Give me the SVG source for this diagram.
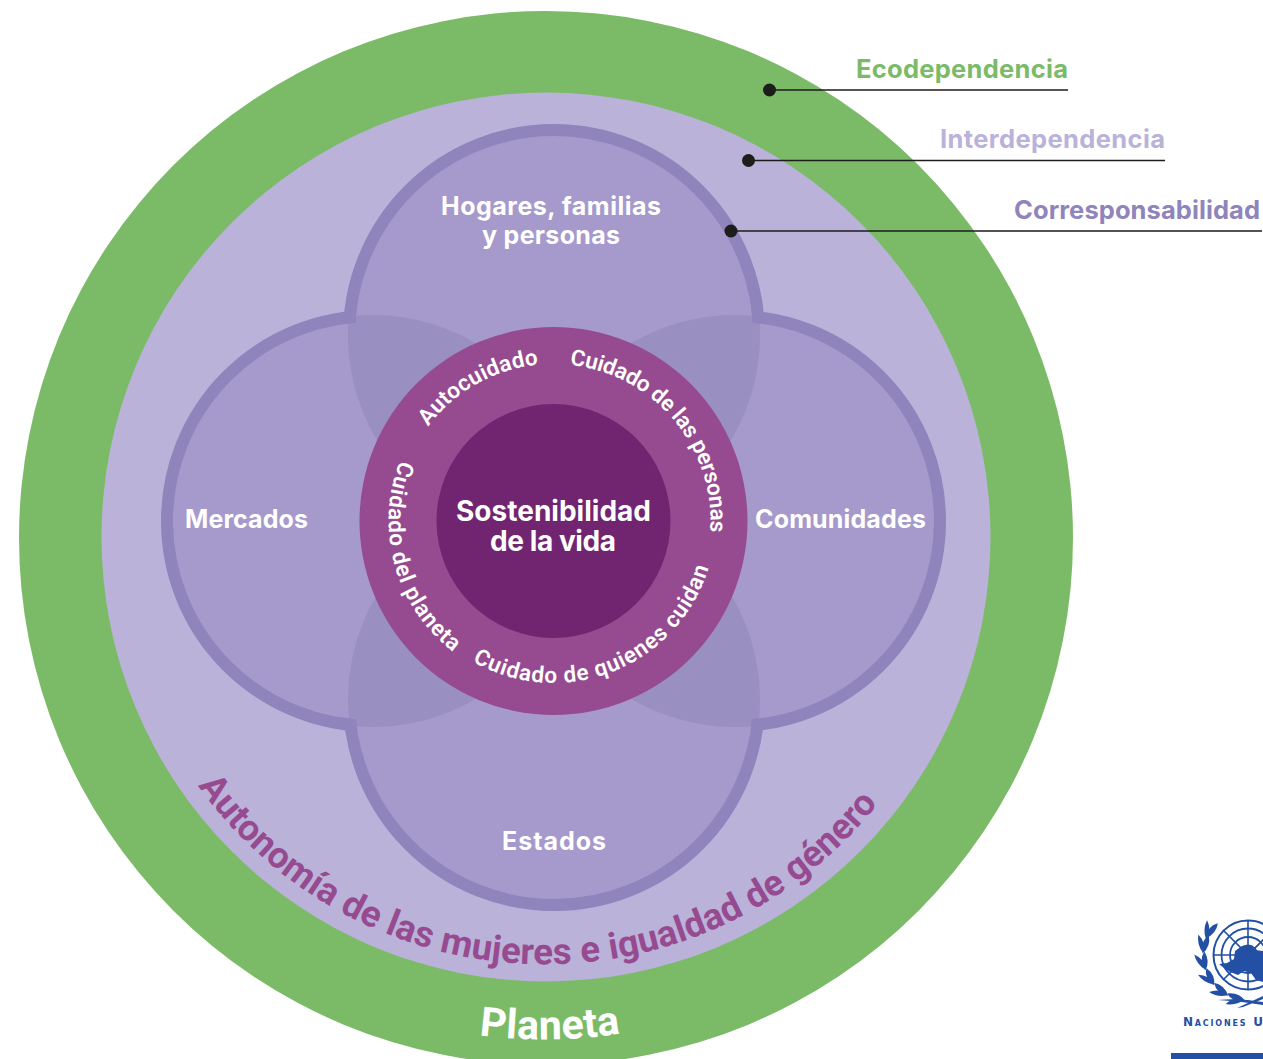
<svg xmlns="http://www.w3.org/2000/svg" width="1263" height="1059" viewBox="0 0 1263 1059">
<style>
text{font-family:"Inter","Roboto","Liberation Sans",sans-serif;font-weight:700}
.w{fill:#fff}
.lab{font-size:25px}
.ring{font-size:22.500px;font-weight:600;font-family:"Roboto","Inter",sans-serif}
.arc{font-family:"Roboto","Inter",sans-serif}
.key{font-size:25.500px}
.ln{stroke:#1d1d1b;stroke-width:1.6;fill:none}
.dot{fill:#1d1d1b}
.pet{fill:#a59acb}
.ov{fill:#9a8fc1}
.rg{fill:none;stroke:#8f84bc;stroke-width:12}
.b{stroke:#2350a5;fill:none}
.k{fill:#000}
</style>
<defs>
<clipPath id="ct"><circle cx="554" cy="335" r="206"/></clipPath>
<clipPath id="cb"><circle cx="554" cy="700" r="206"/></clipPath>
<mask id="mV" maskUnits="userSpaceOnUse" x="0" y="0" width="1263" height="1059"><rect width="1263" height="1059" fill="#fff"/><circle class="k" cx="372" cy="521" r="199"/><circle class="k" cx="735" cy="521" r="199"/></mask>
<mask id="mH" maskUnits="userSpaceOnUse" x="0" y="0" width="1263" height="1059"><rect width="1263" height="1059" fill="#fff"/><circle class="k" cx="554" cy="335" r="199"/><circle class="k" cx="554" cy="700" r="199"/></mask>
<path id="pA" d="M428.1 426.5A157 157 0 0 1 545.3 364.2"/>
<path id="pP" d="M569.9 364.9A157 157 0 0 1 708.1 548.3"/>
<path id="pQ" d="M472.5 661.3A162 162 0 0 0 710.7 560.2"/>
<path id="pD" d="M400 460.5A165 165 0 0 0 458.9 656.2"/>
<path id="pG" d="M198 785.6A426 426 0 0 0 895 781"/>
<path id="pL" d="M479 1035.300A505 505 0 0 0 636 1030.900"/>
<path id="lf" fill="#2350a5" d="M1205 947Q1198 955 1204 966Q1210 957 1205 947z"/>
<path id="lg" fill="#2350a5" d="M1197 938Q1196 948 1203 956Q1206 946 1197 938z"/>
</defs>
<g id="planeta"><circle cx="546" cy="538" r="527" fill="#7bbb67"/>
<text class="w arc" font-size="41"><textPath href="#pL" textLength="142">Planeta</textPath></text></g>
<g id="interdependencia"><circle cx="546" cy="537" r="444.500" fill="#bab2d9"/>
<text class="arc" font-size="36.500" fill="#964b90"><textPath href="#pG" textLength="788">Autonomía de las mujeres e igualdad de género</textPath></text></g>
<g id="petalos">
<circle class="pet" cx="554" cy="335" r="206"/><circle class="pet" cx="554" cy="700" r="206"/><circle class="pet" cx="372" cy="521" r="206"/><circle class="pet" cx="735" cy="521" r="206"/>
<g clip-path="url(#ct)"><circle class="ov" cx="372" cy="521" r="206"/><circle class="ov" cx="735" cy="521" r="206"/></g>
<g clip-path="url(#cb)"><circle class="ov" cx="372" cy="521" r="206"/><circle class="ov" cx="735" cy="521" r="206"/></g>
<g mask="url(#mV)"><circle class="rg" cx="554" cy="335" r="205"/><circle class="rg" cx="554" cy="700" r="205"/></g>
<g mask="url(#mH)"><circle class="rg" cx="372" cy="521" r="205"/><circle class="rg" cx="735" cy="521" r="205"/></g>
</g>
<g id="hogares"><text class="w lab" x="441" y="215" textLength="220">Hogares, familias</text><text class="w lab" x="482" y="244" textLength="138">y personas</text></g>
<g id="mercados"><text class="w lab" x="185" y="528" textLength="123">Mercados</text></g>
<g id="comunidades"><text class="w lab" x="755" y="528" textLength="171">Comunidades</text></g>
<g id="estados"><text class="w lab" x="502" y="850" textLength="104">Estados</text></g>
<g id="cuidados"><circle cx="553.500" cy="521" r="194" fill="#964b90"/>
<text class="w ring"><textPath href="#pA" textLength="130">Autocuidado</textPath></text>
<text class="w ring"><textPath href="#pP" textLength="241">Cuidado de las personas</textPath></text>
<text class="w ring"><textPath href="#pQ" textLength="292">Cuidado de quienes cuidan</textPath></text>
<text class="w ring"><textPath href="#pD" textLength="213">Cuidado del planeta</textPath></text></g>
<g id="sostenibilidad"><circle cx="553.500" cy="521" r="117" fill="#712571"/>
<text class="w" font-size="28" x="456" y="521" textLength="195">Sostenibilidad</text>
<text class="w" font-size="28" x="490" y="551" textLength="126">de la vida</text></g>
<g id="conectores">
<path class="ln" d="M769 90H1068M748 160.500H1165M731 231H1262"/>
<circle class="dot" cx="769.500" cy="90" r="6.500"/><circle class="dot" cx="748.500" cy="160.500" r="6.500"/><circle class="dot" cx="731" cy="231" r="6.500"/>
</g>
<g id="etiquetas">
<text class="key" x="856" y="78" fill="#7bbb67" textLength="212">Ecodependencia</text>
<text class="key" x="940" y="148" fill="#bab2d9" textLength="225">Interdependencia</text>
<text class="key" x="1014" y="219" fill="#8f84bc" textLength="246">Corresponsabilidad</text>
</g>
<g id="logo">
<circle class="b" cx="1248" cy="955" r="34.500" stroke-width="2"/>
<circle class="b" cx="1248" cy="955" r="26.500" stroke-width="1.800"/>
<circle class="b" cx="1248" cy="955" r="18" stroke-width="1.800"/>
<circle class="b" cx="1248" cy="955" r="9.500" stroke-width="1.800"/>
<path class="b" stroke-width="1.600" d="M1248 920V990M1213 955H1283M1223 930L1273 980M1273 930L1223 980"/>
<path fill="#2350a5" d="M1219 964l8-1 7-4 1-8 7-5 8-1 5 5 8 1 5 3 4 2v20l-6 7-10-3-5-7-7-2-6 4-8-3-6-4z"/>
<g>
<use href="#lf" transform="rotate(-72 1248 955)"/><use href="#lf" transform="rotate(-50 1248 955)"/><use href="#lf" transform="rotate(-28 1248 955)"/><use href="#lf" transform="rotate(-6 1248 955)"/><use href="#lf" transform="rotate(16 1248 955)"/><use href="#lf" transform="rotate(36 1248 955)"/>
<use href="#lg" transform="rotate(-84 1248 955)"/><use href="#lg" transform="rotate(-62 1248 955)"/><use href="#lg" transform="rotate(-40 1248 955)"/><use href="#lg" transform="rotate(-18 1248 955)"/><use href="#lg" transform="rotate(4 1248 955)"/><use href="#lg" transform="rotate(22 1248 955)"/>
</g>
<path fill="#2350a5" d="M1218 1000Q1240 998 1263 1002L1263 1005Q1240 1001 1218 1000zM1237 1008L1263 996V999L1243 1007z"/>
<text x="1183" y="1026" font-size="12" fill="#2350a5" textLength="80" style="font-family:'DejaVu Sans',sans-serif;font-weight:700;font-variant:small-caps">Naciones U</text>
<rect x="1171" y="1053" width="92" height="6" fill="#2350a5"/>
</g>
</svg>
